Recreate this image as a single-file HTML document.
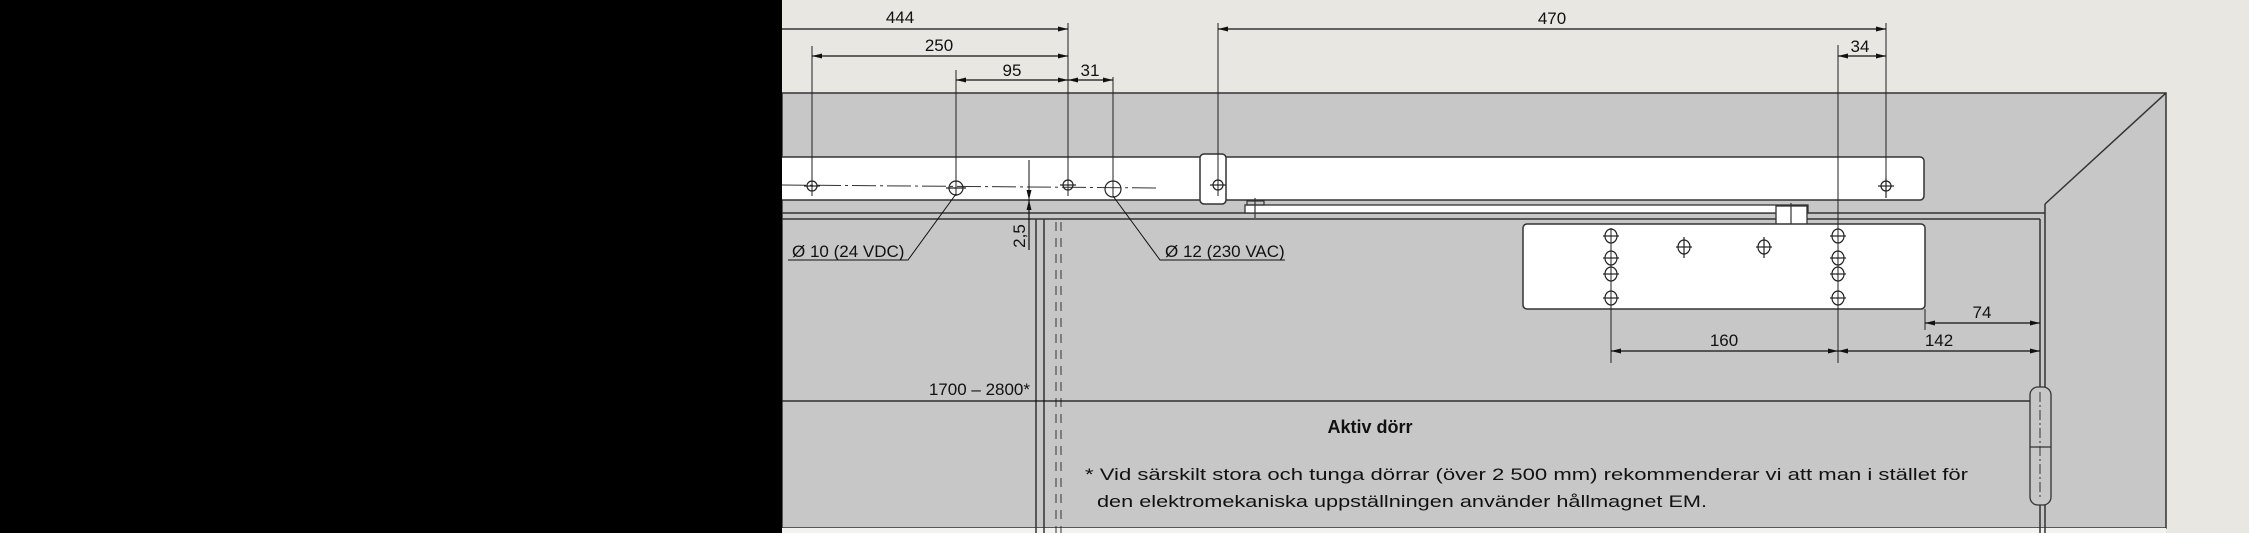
<!DOCTYPE html>
<html><head><meta charset="utf-8">
<style>
html,body{margin:0;padding:0;background:#e8e7e1;}
svg{display:block;}
text{font-family:"Liberation Sans",sans-serif;fill:#111;}
</style></head>
<body>
<svg width="2249" height="533" viewBox="0 0 2249 533">
<defs>
<marker id="ar" markerWidth="10" markerHeight="6" refX="10" refY="3" orient="auto" markerUnits="userSpaceOnUse"><path d="M0,0.5 L10,3 L0,5.5Z" fill="#111"/></marker>
<marker id="al" markerWidth="10" markerHeight="6" refX="0" refY="3" orient="auto" markerUnits="userSpaceOnUse"><path d="M10,0.5 L0,3 L10,5.5Z" fill="#111"/></marker>
</defs>
<rect x="0" y="0" width="2249" height="533" fill="#e8e7e1"/>
<rect x="782" y="93" width="1384" height="435" fill="#c6c7c6" stroke="#333" stroke-width="1.5"/>
<rect x="782" y="528" width="1384" height="5" fill="#f2f2f0"/>
<g stroke="#333" stroke-width="1.5" fill="none">
<line x1="2166" y1="93" x2="2045" y2="204"/>
<line x1="782" y1="213" x2="2045" y2="213"/>
<line x1="782" y1="219" x2="2040" y2="219"/>
<line x1="2045" y1="204" x2="2045" y2="533"/>
<line x1="2040" y1="219" x2="2040" y2="533"/>
<line x1="1036" y1="219" x2="1036" y2="533"/>
<line x1="1044" y1="219" x2="1044" y2="533"/>
<line x1="1056" y1="222" x2="1056" y2="533" stroke-dasharray="9,7" stroke-width="1"/>
<line x1="1061" y1="222" x2="1061" y2="533" stroke-dasharray="9,7" stroke-width="1"/>
</g>
<rect x="770" y="157" width="1154" height="43" rx="4" fill="#fff" stroke="#333" stroke-width="1.5"/>
<line x1="782" y1="185" x2="1158" y2="188" stroke="#333" stroke-width="1" stroke-dasharray="24,4,3,4"/>
<rect x="1200" y="154" width="26" height="50" rx="4" fill="#fff" stroke="#333" stroke-width="1.5"/>
<rect x="1245" y="205" width="563" height="8" fill="#fff" stroke="#333" stroke-width="1.3"/>
<rect x="1776" y="206" width="31" height="19" fill="#fff" stroke="#333" stroke-width="1.3"/>
<g stroke="#333" stroke-width="1.2" fill="none">
<line x1="1255" y1="198" x2="1255" y2="218"/><rect x="1247" y="201" width="17" height="4"/>
<line x1="1791" y1="203" x2="1791" y2="235"/>
</g>
<rect x="1523" y="224" width="402" height="85" rx="4" fill="#fff" stroke="#333" stroke-width="1.5"/>
<g stroke="#222" stroke-width="1.2" fill="none">
<circle cx="812" cy="186" r="5"/><line x1="804" y1="186" x2="820" y2="186"/>
<circle cx="956" cy="188" r="7"/><line x1="946" y1="188" x2="966" y2="188"/>
<circle cx="1068" cy="185" r="5"/><line x1="1060" y1="185" x2="1076" y2="185"/>
<circle cx="1113" cy="189" r="8"/>
<circle cx="1218" cy="185" r="5"/><line x1="1210" y1="185" x2="1226" y2="185"/>
<circle cx="1886" cy="186" r="5"/><line x1="1878" y1="186" x2="1894" y2="186"/><line x1="1886" y1="178" x2="1886" y2="198"/>
<g id="hc"><ellipse cx="1611" cy="236" rx="6" ry="7"/><line x1="1603" y1="236" x2="1619" y2="236"/>
<ellipse cx="1611" cy="258" rx="6" ry="7"/><line x1="1603" y1="258" x2="1619" y2="258"/>
<ellipse cx="1611" cy="274" rx="6" ry="7"/><line x1="1603" y1="274" x2="1619" y2="274"/>
<ellipse cx="1611" cy="298" rx="6" ry="7"/><line x1="1603" y1="298" x2="1619" y2="298"/></g>
<use href="#hc" x="227"/>
<ellipse cx="1684" cy="247" rx="6" ry="7"/><line x1="1676" y1="247" x2="1692" y2="247"/><line x1="1684" y1="237" x2="1684" y2="258"/>
<ellipse cx="1764" cy="247" rx="6" ry="7"/><line x1="1756" y1="247" x2="1772" y2="247"/><line x1="1764" y1="237" x2="1764" y2="258"/>
</g>
<g stroke="#222" stroke-width="1">
<line x1="812" y1="46" x2="812" y2="196"/>
<line x1="956" y1="70" x2="956" y2="196"/>
<line x1="1068" y1="23" x2="1068" y2="196"/>
<line x1="1113" y1="77" x2="1113" y2="196"/>
<line x1="1218" y1="23" x2="1218" y2="196"/>
<line x1="1838" y1="45" x2="1838" y2="363"/>
<line x1="1886" y1="23" x2="1886" y2="196"/>
<line x1="1611" y1="228" x2="1611" y2="363"/>
<line x1="1925" y1="309" x2="1925" y2="330"/>
</g>
<g stroke="#111" stroke-width="1.2">
<line x1="782" y1="29" x2="1068" y2="29" marker-end="url(#ar)"/>
<line x1="812" y1="56" x2="1068" y2="56" marker-start="url(#al)" marker-end="url(#ar)"/>
<line x1="956" y1="80" x2="1068" y2="80" marker-start="url(#al)" marker-end="url(#ar)"/>
<line x1="1068" y1="80" x2="1113" y2="80" marker-start="url(#al)" marker-end="url(#ar)"/>
<line x1="1218" y1="29" x2="1886" y2="29" marker-start="url(#al)" marker-end="url(#ar)"/>
<line x1="1838" y1="56" x2="1886" y2="56" marker-start="url(#al)" marker-end="url(#ar)"/>
<line x1="1925" y1="323" x2="2040" y2="323" marker-start="url(#al)" marker-end="url(#ar)"/>
<line x1="1611" y1="351" x2="1838" y2="351" marker-start="url(#al)" marker-end="url(#ar)"/>
<line x1="1838" y1="351" x2="2040" y2="351" marker-start="url(#al)" marker-end="url(#ar)"/>
<line x1="782" y1="401" x2="2040" y2="401" marker-end="url(#ar)"/>
<line x1="1029" y1="160" x2="1029" y2="200" marker-end="url(#ar)" stroke-width="1"/>
<line x1="1029" y1="250" x2="1029" y2="200" marker-end="url(#ar)"/>
<polyline points="788,260 908,260 956,194" fill="none" stroke-width="1"/>
<polyline points="1285,260 1160,260 1113,196" fill="none" stroke-width="1"/>
</g>
<g font-size="17" text-anchor="middle">
<text x="900" y="23">444</text>
<text x="939" y="51">250</text>
<text x="1012" y="76">95</text>
<text x="1090" y="76">31</text>
<text x="1552" y="24">470</text>
<text x="1860" y="52">34</text>
<text x="1982" y="318">74</text>
<text x="1724" y="346">160</text>
<text x="1939" y="346">142</text>
<text x="1030" y="395" text-anchor="end">1700 – 2800*</text>
<text x="1025" y="236" transform="rotate(-90 1025 236)">2,5</text>
<text x="792" y="257" text-anchor="start">Ø 10 (24 VDC)</text>
<text x="1165" y="257" text-anchor="start">Ø 12 (230 VAC)</text>
</g>
<g stroke="#333" stroke-width="1.3">
<rect x="2030" y="387" width="21" height="118" rx="8" fill="#c6c7c6"/>
<line x1="2030" y1="447" x2="2051" y2="447"/>
<line x1="2040" y1="392" x2="2040" y2="500" stroke-dasharray="10,3,2,3" stroke-width="1"/>
</g>
<text x="1370" y="433" font-size="18" font-weight="bold" text-anchor="middle">Aktiv dörr</text>
<text x="1085" y="480" font-size="17" textLength="883" lengthAdjust="spacingAndGlyphs">* Vid särskilt stora och tunga dörrar (över 2 500 mm) rekommenderar vi att man i stället för</text>
<text x="1097" y="507" font-size="17" textLength="610" lengthAdjust="spacingAndGlyphs">den elektromekaniska uppställningen använder hållmagnet EM.</text>
<rect x="0" y="0" width="782" height="533" fill="#000"/>
</svg>
</body></html>
